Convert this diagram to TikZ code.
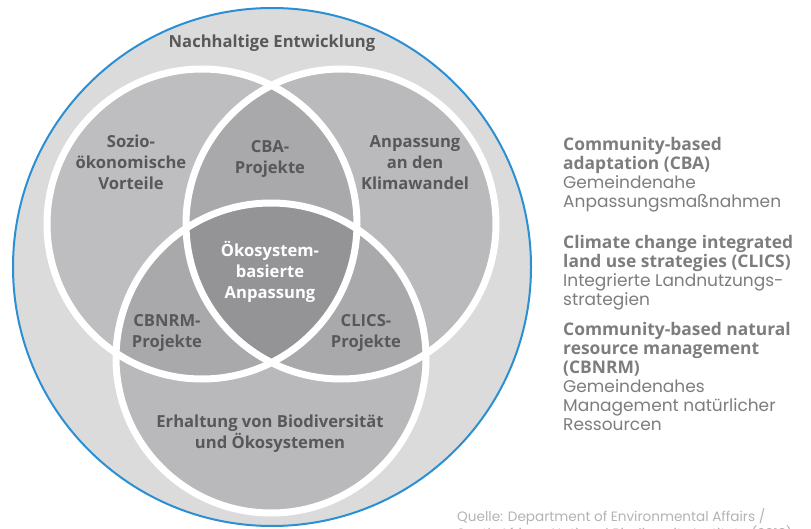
\documentclass[tikz,border=0pt]{standalone}
\usepackage{fontspec}
\setmainfont{Open Sans}
\newfontfamily\keyfont{Poppins}
\definecolor{outerfill}{HTML}{DBDBDB}
\definecolor{bluering}{HTML}{2A90D3}
\definecolor{leftfill}{HTML}{BEBEC0}
\definecolor{rightfill}{HTML}{BABABC}
\definecolor{lowfill}{HTML}{B9B9BB}
\definecolor{pairfill}{HTML}{A9A9AB}
\definecolor{corefill}{HTML}{949496}
\definecolor{labelgray}{HTML}{58585A}
\definecolor{keygray}{HTML}{7D7D7F}
\definecolor{notegray}{HTML}{B3B3B3}
\tikzset{
  region/.style={font=\bfseries\fontsize{16.6}{21}\selectfont, text=labelgray, align=center, inner sep=0pt},
  keyblock/.style={font=\fontsize{17.4}{19}\selectfont, text=keygray, align=left, anchor=north west, inner sep=0pt},
  ring/.style={draw=white, line width=7pt}
}
\newcommand{\keyline}[1]{{\keyfont\fontsize{17}{19}\selectfont #1}}
\begin{document}
\begin{tikzpicture}[x=1pt,y=-1pt]
    \useasboundingbox (0,0) rectangle (811,529);
    \coordinate (all) at (272,267);
    \coordinate (soc) at (202,224);
    \coordinate (clim) at (341,224);
    \coordinate (bio) at (271,358);
    \filldraw[fill=outerfill, draw=bluering, line width=2pt] (all) circle (259pt);
    \fill[leftfill] (soc) circle (155pt);
    \fill[rightfill] (clim) circle (155pt);
    \fill[lowfill] (bio) circle (155pt);
    \begin{scope}
        \clip (soc) circle (155pt);
        \fill[pairfill] (clim) circle (155pt);
        \fill[pairfill] (bio) circle (155pt);
    \end{scope}
    \begin{scope}
        \clip (clim) circle (155pt);
        \fill[pairfill] (bio) circle (155pt);
    \end{scope}
    \begin{scope}
        \clip (soc) circle (155pt);
        \clip (clim) circle (155pt);
        \fill[corefill] (bio) circle (155pt);
    \end{scope}
    \draw[ring] (soc) circle (155pt);
    \draw[ring] (clim) circle (155pt);
    \draw[ring] (bio) circle (155pt);

    \node[region] (nach) at (272,43) {Nachhaltige Entwicklung};
    \node[region] (sozio) at (131,162) {Sozio-\\ökonomische\\Vorteile};
    \node[region] (cba) at (270,159) {CBA-\\Projekte};
    \node[region] (anp) at (415,163) {Anpassung\\an den\\Klimawandel};
    \node[region, text=white] (eba) at (270,272) {Ökosystem-\\basierte\\Anpassung};
    \node[region] (cbnrm) at (167,333) {CBNRM-\\Projekte};
    \node[region] (clics) at (366,333) {CLICS-\\Projekte};
    \node[region] (erh) at (270,434) {Erhaltung von Biodiversität\\und Ökosystemen};

    \node[keyblock] (keycba) at (563,137) {\textbf{Community-based}\\\textbf{adaptation (CBA)}\\\keyline{Gemeindenahe}\\\keyline{Anpassungsmaßnahmen}};
    \node[keyblock] (keyclics) at (563,235) {\textbf{Climate change integrated}\\\textbf{land use strategies (CLICS)}\\\keyline{Integrierte Landnutzungs-}\\\keyline{strategien}};
    \node[keyblock] (keycbnrm) at (563,322) {\textbf{Community-based natural}\\\textbf{resource management}\\\textbf{(CBNRM)}\\\keyline{Gemeindenahes}\\\keyline{Management natürlicher}\\\keyline{Ressourcen}};

    \node[keyblock, text=notegray, font=\keyfont\fontsize{13.6}{17}\selectfont] (src) at (457,508) {Quelle: Department of Environmental Affairs /\\South African National Biodiversity Institute (2013)};
\end{tikzpicture}
\end{document}
